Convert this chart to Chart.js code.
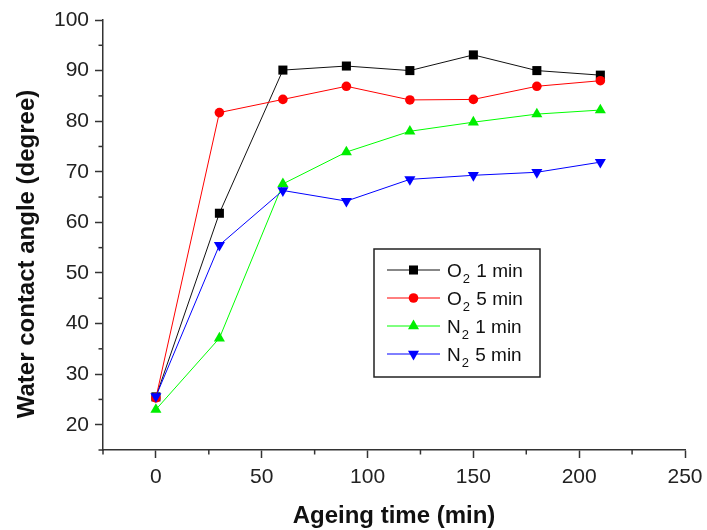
<!DOCTYPE html>
<html>
<head>
<meta charset="utf-8">
<script src="https://cdn.jsdelivr.net/npm/chart.js@4.4.1/dist/chart.umd.min.js"></script>
<style>
html,body{margin:0;padding:0;background:#fff;}
canvas{display:block;}
</style>
</head>
<body>
<canvas id="c" width="707" height="530"></canvas>
<script>
const times = [0, 30, 60, 90, 120, 150, 180, 210];
const o2_1min = [25.5, 61.8, 90.1, 90.9, 90.0, 93.1, 90.0, 89.1];
const o2_5min = [25.3, 81.7, 84.3, 86.9, 84.2, 84.3, 86.9, 88.0];
const n2_1min = [23.0, 37.1, 67.6, 73.9, 78.0, 79.8, 81.4, 82.2];
const n2_5min = [25.6, 55.5, 66.3, 64.2, 68.5, 69.3, 69.9, 71.9];
const xTicks = [0, 50, 100, 150, 200, 250];
const xMinorTicks = [-25, 25, 75, 125, 175, 225];
const yTicks = [20, 30, 40, 50, 60, 70, 80, 90, 100];
const yMinorTicks = [15, 25, 35, 45, 55, 65, 75, 85, 95];
const seriesNames = [['O', '2', ' 1 min'], ['O', '2', ' 5 min'], ['N', '2', ' 1 min'], ['N', '2', ' 5 min']];
const xTitle = 'Ageing time (min)';
const yTitle = 'Water contact angle (degree)';

const FONT = '"Liberation Sans", Arial, sans-serif';
const AXIS = '#333';

function pts(ys) { return times.map((t, i) => ({ x: t, y: ys[i] })); }

const styles = [
  { line: '#111111', fill: '#000000', style: 'rect', radius: 6.4, rotation: 0 },
  { line: '#ff0000', fill: '#ff0000', style: 'circle', radius: 4.8, rotation: 0 },
  { line: '#00ff00', fill: '#00ee00', style: 'triangle', radius: 6.4, rotation: 0 },
  { line: '#0000ff', fill: '#0000ff', style: 'triangle', radius: 6.4, rotation: 180 }
];
const seriesData = [o2_1min, o2_5min, n2_1min, n2_5min];

const datasets = seriesData.map((d, i) => ({
  label: seriesNames[i].join(''),
  data: pts(d),
  borderColor: styles[i].line,
  borderWidth: 1,
  backgroundColor: styles[i].fill,
  pointBackgroundColor: styles[i].fill,
  pointBorderColor: styles[i].fill,
  pointBorderWidth: 0,
  pointStyle: styles[i].style,
  pointRadius: styles[i].radius,
  pointRotation: styles[i].rotation,
  tension: 0,
  order: 4 - i,
  clip: false
}));

function drawMarker(ctx, st, x, y) {
  ctx.save();
  ctx.fillStyle = st.fill;
  ctx.beginPath();
  const r = st.radius;
  if (st.style === 'rect') {
    const s = Math.SQRT1_2 * r;
    ctx.rect(x - s, y - s, 2 * s, 2 * s);
  } else if (st.style === 'circle') {
    ctx.arc(x, y, r, 0, Math.PI * 2);
  } else {
    let rad = st.rotation * Math.PI / 180;
    for (let k = 0; k < 3; k++) {
      const px = x + Math.sin(rad) * r, py = y - Math.cos(rad) * r;
      if (k === 0) ctx.moveTo(px, py); else ctx.lineTo(px, py);
      rad += 2 * Math.PI / 3;
    }
    ctx.closePath();
  }
  ctx.fill();
  ctx.restore();
}

const extras = {
  id: 'extras',
  afterDraw(chart) {
    const ctx = chart.ctx;
    const xs = chart.scales.x, ys = chart.scales.y;
    const ca = chart.chartArea;
    ctx.save();
    ctx.strokeStyle = AXIS;
    ctx.lineWidth = 1.5;
    // minor ticks
    xMinorTicks.forEach(v => {
      const px = xs.getPixelForValue(v);
      ctx.beginPath(); ctx.moveTo(px, ca.bottom); ctx.lineTo(px, ca.bottom + 4.5); ctx.stroke();
    });
    yMinorTicks.forEach(v => {
      const py = ys.getPixelForValue(v);
      ctx.beginPath(); ctx.moveTo(ca.left, py); ctx.lineTo(ca.left - 4.5, py); ctx.stroke();
    });
    // axis titles
    ctx.fillStyle = '#111';
    ctx.font = 'bold 24px ' + FONT;
    ctx.textAlign = 'center';
    ctx.textBaseline = 'alphabetic';
    ctx.fillText(xTitle, (ca.left + ca.right) / 2, 523);
    ctx.save();
    ctx.translate(34, 254);
    ctx.rotate(-Math.PI / 2);
    ctx.fillText(yTitle, 0, 0);
    ctx.restore();
    // legend
    const bx = 374, by = 249, bw = 166, bh = 128;
    ctx.lineWidth = 1.5;
    ctx.strokeStyle = '#222';
    ctx.fillStyle = '#fff';
    ctx.fillRect(bx, by, bw, bh);
    ctx.strokeRect(bx, by, bw, bh);
    const rows = [270, 298, 326, 354];
    rows.forEach((ry, i) => {
      const st = styles[i];
      ctx.strokeStyle = st.line;
      ctx.lineWidth = 1;
      ctx.beginPath(); ctx.moveTo(387, ry); ctx.lineTo(440, ry); ctx.stroke();
      drawMarker(ctx, st, 413.5, ry);
      ctx.fillStyle = '#111';
      ctx.textAlign = 'left';
      ctx.textBaseline = 'alphabetic';
      const base = ry + 6.5;
      ctx.font = '19px ' + FONT;
      let tx = 447;
      ctx.fillText(seriesNames[i][0], tx, base);
      tx += ctx.measureText(seriesNames[i][0]).width + 1;
      ctx.font = '13px ' + FONT;
      ctx.fillText(seriesNames[i][1], tx, base + 6);
      tx += ctx.measureText(seriesNames[i][1]).width + 1;
      ctx.font = '19px ' + FONT;
      ctx.fillText(seriesNames[i][2], tx, base);
    });
    ctx.restore();
  }
};

new Chart(document.getElementById('c'), {
  type: 'line',
  data: { datasets },
  options: {
    responsive: false,
    animation: false,
    layout: { padding: { top: 20, right: 22, left: 0, bottom: 0 } },
    plugins: { legend: { display: false }, tooltip: { enabled: false }, title: { display: false } },
    scales: {
      x: {
        type: 'linear',
        min: -25, max: 250,
        afterBuildTicks: s => { s.ticks = xTicks.map(v => ({ value: v })); },
        afterFit: s => { s.height = 80; s.paddingRight = 0; s.paddingLeft = 0; },
        grid: { drawOnChartArea: false, drawTicks: true, tickLength: 8, tickColor: AXIS, tickWidth: 1.5 },
        border: { display: true, color: AXIS, width: 1.5 },
        ticks: { font: { family: FONT, size: 21 }, color: '#222', padding: 7, maxRotation: 0, autoSkip: false },
        title: { display: false }
      },
      y: {
        type: 'linear',
        min: 15, max: 100,
        afterBuildTicks: s => { s.ticks = yTicks.map(v => ({ value: v })); },
        afterFit: s => { s.width = 103; s.paddingTop = 0; s.paddingBottom = 0; },
        grid: { drawOnChartArea: false, drawTicks: true, tickLength: 8, tickColor: AXIS, tickWidth: 1.5 },
        border: { display: true, color: AXIS, width: 1.5 },
        ticks: { font: { family: FONT, size: 21 }, color: '#222', padding: 6, autoSkip: false },
        title: { display: false }
      }
    }
  },
  plugins: [extras]
});
</script>
</body>
</html>
